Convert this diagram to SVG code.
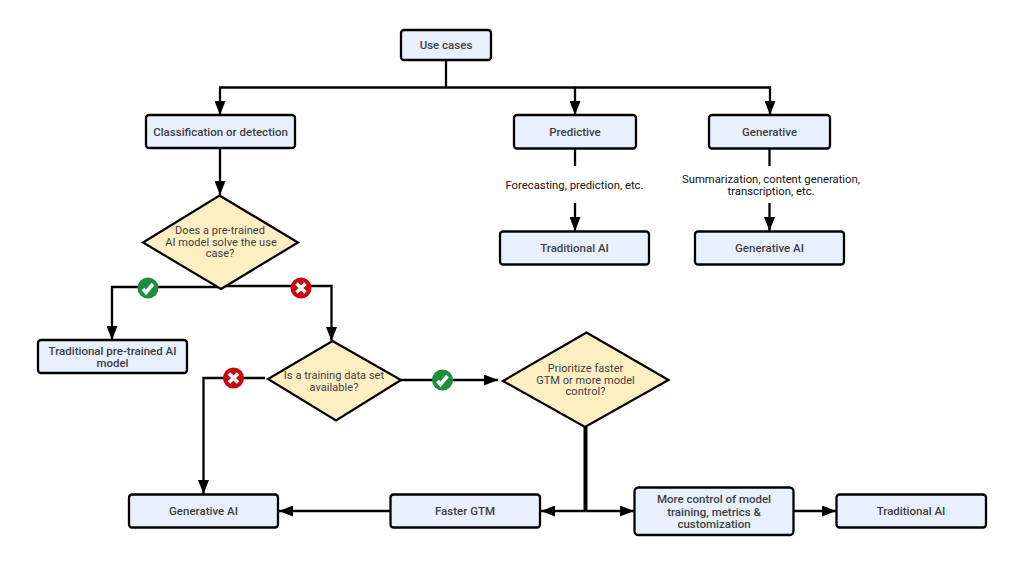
<svg xmlns="http://www.w3.org/2000/svg" width="1024" height="570" viewBox="0 0 1024 570">
<style>
text{font-family:"Roboto","Liberation Sans",sans-serif;text-anchor:middle;fill:#3c4043}
.b text{font-size:11.500px;font-weight:500}
.d text{font-size:11px;letter-spacing:.05px}
.b rect{fill:#e8f0fe;stroke:#000;stroke-width:2.300}
.d polygon{fill:#feefc3;stroke:#000;stroke-width:2.200}
.c{fill:none;stroke:#000;stroke-width:2.300}
.l{fill:#111;font-size:11.300px}
.ok{fill:#1e8e3e}.no{fill:#c80a0a}
.m{fill:none;stroke:#fff;stroke-width:3.600}
</style>
<defs>
<marker id="a" markerUnits="userSpaceOnUse" markerWidth="14" markerHeight="11" refX="14" refY="5.500" orient="auto-start-reverse"><path d="M0 0L14 5.500L0 11Z" fill="#000"/></marker>
<symbol id="yes" viewBox="-11 -11 22 22" overflow="visible"><circle r="10.500" class="ok"/><path class="m" d="M-5 1L-2 4.500L5 -4"/></symbol>
<symbol id="nay" viewBox="-11 -11 22 22" overflow="visible"><circle r="10.500" class="no"/><path class="m" d="M-4.500 -4.500L4.500 4.500M4.500 -4.500L-4.500 4.500"/></symbol>
</defs>
<g id="connectors">
<path class="c" d="M446 60V87.500"/>
<path class="c" d="M446 87.500H220V115" marker-end="url(#a)"/>
<path class="c" d="M446 87.500H575V115" marker-end="url(#a)"/>
<path class="c" d="M575 87.500H770V115" marker-end="url(#a)"/>
<path class="c" d="M220 148V195" marker-end="url(#a)"/>
<path class="c" d="M575 149V166"/>
<path class="c" d="M575 203V231" marker-end="url(#a)"/>
<path class="c" d="M769.500 149V166"/>
<path class="c" d="M769.500 203V231" marker-end="url(#a)"/>
<path class="c" d="M221 287H112V340" marker-end="url(#a)"/>
<path class="c" d="M221 286H331.500V341" marker-end="url(#a)"/>
<path class="c" d="M265 378H203.500V494" marker-end="url(#a)"/>
<path class="c" d="M401 380H498" marker-end="url(#a)"/>
<path class="c" style="stroke-width:4" d="M585.500 427V511"/>
<path class="c" d="M585.500 511H541" marker-end="url(#a)"/>
<path class="c" d="M585.500 511H634" marker-end="url(#a)"/>
<path class="c" d="M794 511H836" marker-end="url(#a)"/>
<path class="c" d="M390 511H279" marker-end="url(#a)"/>
</g>
<g id="label-forecasting"><text class="l" x="574.500" y="189">Forecasting, prediction, etc.</text></g>
<g id="label-summarization"><text class="l" x="771" y="182.500">Summarization, content generation,<tspan x="771" y="195">transcription, etc.</tspan></text></g>
<g id="use-cases" class="b"><rect x="401" y="30" width="90" height="30" rx="3"/><text x="446" y="49">Use cases</text></g>
<g id="classification" class="b"><rect x="146" y="115" width="149" height="33" rx="3"/><text x="220.500" y="135.500">Classification or detection</text></g>
<g id="predictive" class="b"><rect x="514" y="115" width="122" height="33.500" rx="3"/><text x="575" y="135.500">Predictive</text></g>
<g id="generative" class="b"><rect x="709" y="115" width="121" height="33.500" rx="3"/><text x="769.500" y="135.500">Generative</text></g>
<g id="traditional-ai-1" class="b"><rect x="500" y="231.500" width="149" height="33" rx="3"/><text x="574.500" y="252">Traditional AI</text></g>
<g id="generative-ai-1" class="b"><rect x="695" y="231.500" width="149" height="33" rx="3"/><text x="769.500" y="252">Generative AI</text></g>
<g id="decision-pretrained" class="d"><polygon points="219.500,195.500 298,242.500 221,289 143,242.500"/><text x="220" y="234">Does a pre-trained<tspan x="221" y="245.500">AI model solve the use</tspan><tspan x="220" y="257">case?</tspan></text></g>
<g id="traditional-pretrained" class="b"><rect x="38" y="340" width="149" height="33" rx="3"/><text x="112.500" y="355">Traditional pre-trained AI<tspan x="112.500" y="367">model</tspan></text></g>
<g id="decision-dataset" class="d"><polygon points="332.500,341 401,380 336,420.500 268,379"/><text x="334" y="379">Is a training data set<tspan x="334" y="390.500">available?</tspan></text></g>
<g id="decision-priority" class="d"><polygon points="586.500,332.500 668.500,380 585,427 503,381"/><text x="585.500" y="372">Prioritize faster<tspan x="585.500" y="383.500">GTM or more model</tspan><tspan x="585.500" y="395">control?</tspan></text></g>
<g id="generative-ai-2" class="b"><rect x="129" y="494.500" width="149" height="33" rx="3"/><text x="203.500" y="515">Generative AI</text></g>
<g id="faster-gtm" class="b"><rect x="390.500" y="494.500" width="149.500" height="33" rx="3"/><text x="465" y="515">Faster GTM</text></g>
<g id="more-control" class="b"><rect x="634.500" y="487.500" width="159" height="47.500" rx="4"/><text x="714" y="503">More control of model<tspan x="714" y="515.500">training, metrics &amp;</tspan><tspan x="714" y="528">customization</tspan></text></g>
<g id="traditional-ai-2" class="b"><rect x="836.500" y="494.500" width="149.500" height="33" rx="3"/><text x="911" y="515">Traditional AI</text></g>
<g id="badges">
<use href="#yes" x="137" y="277" width="22" height="22"/>
<use href="#nay" x="290" y="277" width="22" height="22"/>
<use href="#nay" x="222.500" y="367" width="22" height="22"/>
<use href="#yes" x="431.500" y="369" width="22" height="22"/>
</g>
</svg>
